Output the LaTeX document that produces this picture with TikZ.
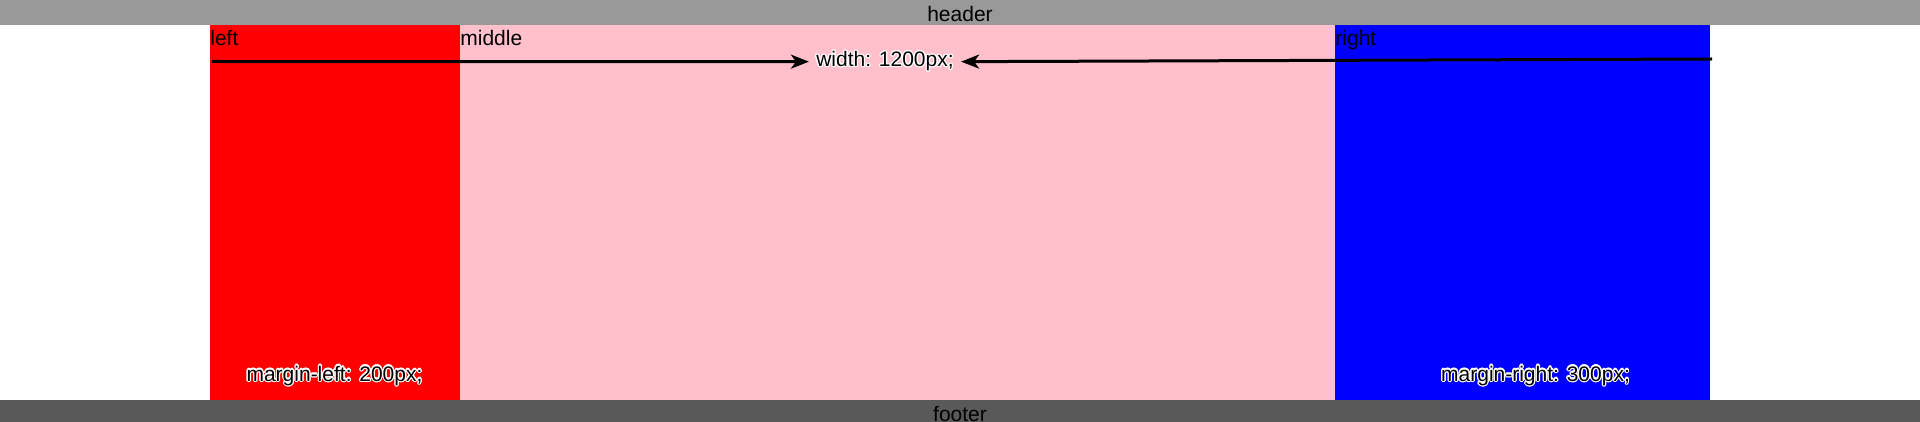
\documentclass[tikz,border=0pt]{standalone}
\usepackage{fontspec}
\setmainfont{Liberation Sans}
\usepackage{contour}
\contourlength{0.6pt}
\usepackage{xcolor}
\usetikzlibrary{arrows.meta}

\definecolor{headgray}{HTML}{999999}
\definecolor{footgray}{HTML}{595959}
\definecolor{midpink}{HTML}{FFC0CB}

\begin{document}
\begin{tikzpicture}[
                x=0.5pt,y=-0.5pt,
                txt/.style={inner sep=0pt,font=\fontsize{10.5}{12}\selectfont},
                colname/.style={txt,anchor=base west},
                halo/.style={txt,anchor=base},
                measure/.style={line width=1.5pt,-{Stealth[length=9pt,width=7pt,inset=2.5pt]}}]
            \useasboundingbox (0,0) rectangle (1920,422);
            % bars and columns
            \fill[headgray] (0,0) rectangle (1920,25);
            \fill[footgray] (0,400) rectangle (1920,425);
            \fill[red] (210,25) rectangle (460,400);
            \fill[midpink] (460,25) rectangle (1335,400);
            \fill[blue] (1335,25) rectangle (1710,400);
            % texts
            \node[txt,anchor=base] (header) at (960,21.5) {header};
            \node[txt,anchor=base] (footer) at (960,421.5) {footer};
            \node[colname] (left) at (210,46) {left};
            \node[colname] (middle) at (460,46) {middle};
            \node[colname] (right) at (1335,46) {right};
            \node[halo,inner xsep=3.5pt] (width) at (885,66.5) {\contour{white}{width: 1200px;}};
            \node[halo] (marginleft) at (334.5,381) {\contour{white}{margin-left: 200px;}};
            \node[halo] (marginright) at (1535.5,381) {\contour{white}{margin-right: 300px;}};
            % arrows
            \coordinate (wl) at (212,61.5);
            \coordinate (wr) at (1712,59);
            \draw[measure] (wl) -- (width.west);
            \draw[measure] (wr) -- (width.east);
        \end{tikzpicture}
\end{document}
